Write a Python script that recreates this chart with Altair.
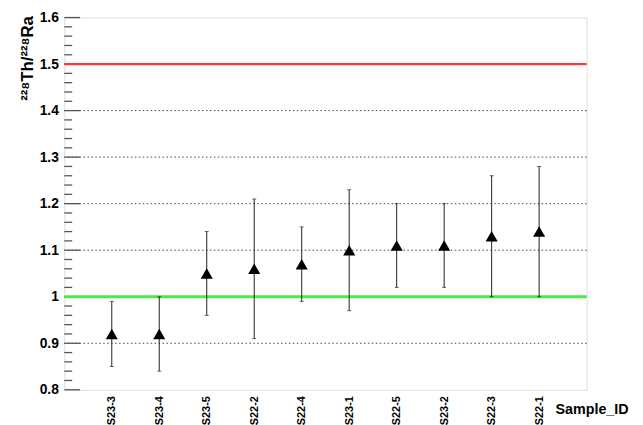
import altair as alt
import pandas as pd

samples = ["S23-3", "S23-4", "S23-5", "S22-2", "S22-4", "S23-1", "S22-5", "S23-2", "S22-3", "S22-1"]
ratio = [0.92, 0.92, 1.05, 1.06, 1.07, 1.10, 1.11, 1.11, 1.13, 1.14]
low = [0.85, 0.84, 0.96, 0.91, 0.99, 0.97, 1.02, 1.02, 1.00, 1.00]
high = [0.99, 1.00, 1.14, 1.21, 1.15, 1.23, 1.20, 1.20, 1.26, 1.28]

major_ticks = [0.8, 0.9, 1.0, 1.1, 1.2, 1.3, 1.4, 1.5, 1.6]
minor_ticks = [0.82, 0.84, 0.86, 0.88, 0.92, 0.94, 0.96, 0.98,
               1.02, 1.04, 1.06, 1.08, 1.12, 1.14, 1.16, 1.18,
               1.22, 1.24, 1.26, 1.28, 1.32, 1.34, 1.36, 1.38,
               1.42, 1.44, 1.46, 1.48, 1.52, 1.54, 1.56, 1.58]
grid_levels = [0.9, 1.1, 1.2, 1.3, 1.4]
red_level = [1.5]
green_level = [1.0]

df = pd.DataFrame({"sample": samples, "ratio": ratio, "low": low, "high": high})
df_major = pd.DataFrame({"v": major_ticks})
df_minor = pd.DataFrame({"v": minor_ticks})
df_grid = pd.DataFrame({"v": grid_levels})
df_red = pd.DataFrame({"v": red_level})
df_green = pd.DataFrame({"v": green_level})

yscale = alt.Scale(domain=[0.8, 1.6], nice=False, zero=False)
xscale = alt.Scale(type="point", padding=1)

FONT = "Liberation Sans"

yaxis = alt.Axis(
    values=major_ticks, labelExpr="format(datum.value, '~g')",
    labelFont=FONT, labelFontWeight="bold", labelFontSize=14, labelColor="#000",
    labelPadding=6, ticks=False, domain=False, grid=False,
    title="²²⁸Th/²²⁸Ra", titleFont=FONT, titleFontWeight="bold", titleFontSize=17,
    titleColor="#000", titleAngle=270, titleAlign="right", titleBaseline="alphabetic",
    titleX=-32, titleY=-2,
)
xaxis = alt.Axis(
    labelAngle=270, labelFont=FONT, labelFontWeight="bold", labelFontSize=11,
    labelColor="#000", labelPadding=6, ticks=False, domain=False, grid=False,
    title="Sample_ID", titleFont=FONT, titleFontWeight="bold", titleFontSize=14.5,
    titleColor="#000", titleAngle=0, titleAlign="left", titleBaseline="alphabetic",
    titleX=497, titleY=24,
)

grid = alt.Chart(df_grid).mark_rule(color="#444", strokeWidth=1, strokeDash=[1.5, 2.5]).encode(
    y=alt.Y("v:Q", scale=yscale)
)
bars = alt.Chart(df).mark_rule(color="#222", strokeWidth=1).encode(
    x=alt.X("sample:N", sort=samples, scale=xscale, axis=xaxis),
    y=alt.Y("low:Q", scale=yscale, axis=yaxis),
    y2="high:Q",
)
caps_lo = alt.Chart(df).mark_tick(color="#222", size=4, thickness=1, orient="horizontal").encode(
    x=alt.X("sample:N", sort=samples, scale=xscale),
    y=alt.Y("low:Q", scale=yscale),
)
caps_hi = alt.Chart(df).mark_tick(color="#222", size=4, thickness=1, orient="horizontal").encode(
    x=alt.X("sample:N", sort=samples, scale=xscale),
    y=alt.Y("high:Q", scale=yscale),
)
red = alt.Chart(df_red).mark_rule(color="#ff3838", strokeWidth=2.2).encode(
    y=alt.Y("v:Q", scale=yscale)
)
green = alt.Chart(df_green).mark_rule(color="#48ec48", strokeWidth=3).encode(
    y=alt.Y("v:Q", scale=yscale)
)
points = alt.Chart(df).mark_point(shape="triangle-up", filled=True, color="#000", opacity=1, size=150).encode(
    x=alt.X("sample:N", sort=samples, scale=xscale),
    y=alt.Y("ratio:Q", scale=yscale),
)
maj = alt.Chart(df_major).mark_rule(color="#555", strokeWidth=1.3).encode(
    x=alt.value(0), x2=alt.value(16), y=alt.Y("v:Q", scale=yscale)
)
mnr = alt.Chart(df_minor).mark_rule(color="#555", strokeWidth=1.3).encode(
    x=alt.value(0), x2=alt.value(8), y=alt.Y("v:Q", scale=yscale)
)

chart = alt.layer(grid, maj, mnr, red, green, bars, caps_lo, caps_hi, points).properties(
    width=529, height=377,
    autosize=alt.AutoSizeParams(type="none"),
    padding={"left": 57, "top": 7, "right": 49, "bottom": 33},
).configure_view(stroke="#666666", strokeWidth=2).configure(background="white")

chart.save("out.html", embed_options={"renderer": "svg", "actions": False})
